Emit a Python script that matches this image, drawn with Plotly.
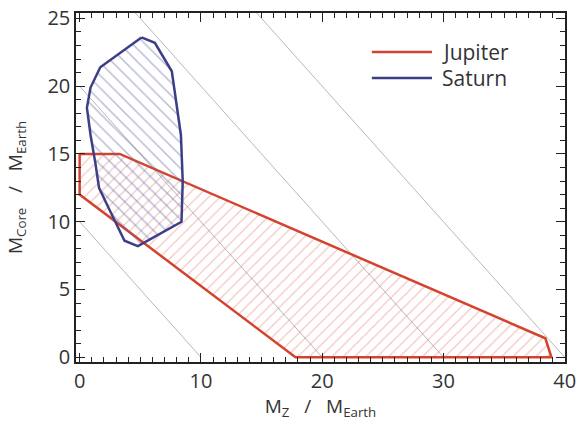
import plotly.graph_objects as go

# Jupiter allowed region (M_Z, M_core)
jup_z = [0.0, 3.3, 38.4, 38.9, 17.8, 0.0, 0.0]
jup_core = [15.0, 15.0, 1.4, 0.0, 0.0, 12.0, 15.0]

# Saturn allowed region (M_Z, M_core)
sat_z = [5.1, 6.2, 7.6, 8.35, 8.5, 8.4, 4.8, 3.7, 2.4, 1.6, 1.3, 0.9, 0.6, 0.9, 1.7, 5.1]
sat_core = [23.6, 23.2, 21.1, 16.4, 13.0, 10.0, 8.2, 8.6, 11.0, 12.5, 14.3, 16.4, 18.4, 19.9, 21.4, 23.6]

# constant total heavy-element mass lines: M_Z + M_core = const
total_masses = [10, 20, 30, 40]

legend_names = ["Jupiter", "Saturn"]

RED = "#d3432e"
BLUE = "#3d3f86"
FONT = "Open Sans"

fig = go.Figure()

for m in total_masses:
    fig.add_trace(go.Scatter(x=[0, m], y=[m, 0], mode="lines",
                             line=dict(color="#b8b8b8", width=1),
                             showlegend=False, hoverinfo="skip"))

fig.add_trace(go.Scatter(
    x=jup_z, y=jup_core, mode="lines", fill="toself",
    fillcolor="rgba(0,0,0,0)",
    fillpattern=dict(shape="/", fgcolor="rgba(222,115,100,0.8)", bgcolor="rgba(0,0,0,0)",
                     size=8, solidity=0.15, fillmode="overlay"),
    line=dict(color=RED, width=2.5), showlegend=False, name=legend_names[0]))

fig.add_trace(go.Scatter(
    x=sat_z, y=sat_core, mode="lines", fill="toself",
    fillcolor="rgba(0,0,0,0)",
    fillpattern=dict(shape="\\", fgcolor="rgba(95,100,160,0.9)", bgcolor="rgba(0,0,0,0)",
                     size=9, solidity=0.16, fillmode="overlay"),
    line=dict(color=BLUE, width=2.5), showlegend=False, name=legend_names[1]))

# manual legend
leg_rows = [(0.888, RED), (0.814, BLUE)]
for (yp, col), name in zip(leg_rows, legend_names):
    fig.add_shape(type="line", xref="paper", yref="paper", x0=0.605, x1=0.728, y0=yp, y1=yp,
                  line=dict(color=col, width=2.5))
    fig.add_annotation(xref="paper", yref="paper", x=0.745, y=yp, text=name, showarrow=False,
                       xanchor="left", yanchor="middle", font=dict(family=FONT, size=21, color="#333"))

axis_common = dict(showgrid=False, zeroline=False, showline=True, linecolor="#222", linewidth=1.5,
                   mirror="ticks", ticks="inside", ticklen=9, tickwidth=1.3, tickcolor="#222",
                   automargin=False,
                   tickfont=dict(family=FONT, size=20, color="#333"))

minor_ticks = dict(dtick=1, ticklen=5, ticks="inside", tickcolor="#222", tickwidth=1.1)

fig.update_xaxes(range=[-0.3, 40.02], dtick=10, tick0=0, minor=minor_ticks,
                 title=dict(text="M<sub>Z</sub>   /   M<sub>Earth</sub>", standoff=4,
                            font=dict(family=FONT, size=19, color="#333")),
                 **axis_common)
fig.update_yaxes(range=[-0.35, 25.4], dtick=5, tick0=0, minor=minor_ticks,
                 title=dict(text="M<sub>Core</sub>   /   M<sub>Earth</sub>", standoff=20,
                            font=dict(family=FONT, size=19, color="#333")),
                 **axis_common)

fig.update_layout(width=578, height=421, margin=dict(l=76, r=13, t=13, b=59),
                  plot_bgcolor="white", paper_bgcolor="white",
                  font=dict(family=FONT, color="#333"))

fig.write_html("out.html", config={"displayModeBar": False},
               post_script="document.body.style.margin='0';document.body.style.padding='0';")
